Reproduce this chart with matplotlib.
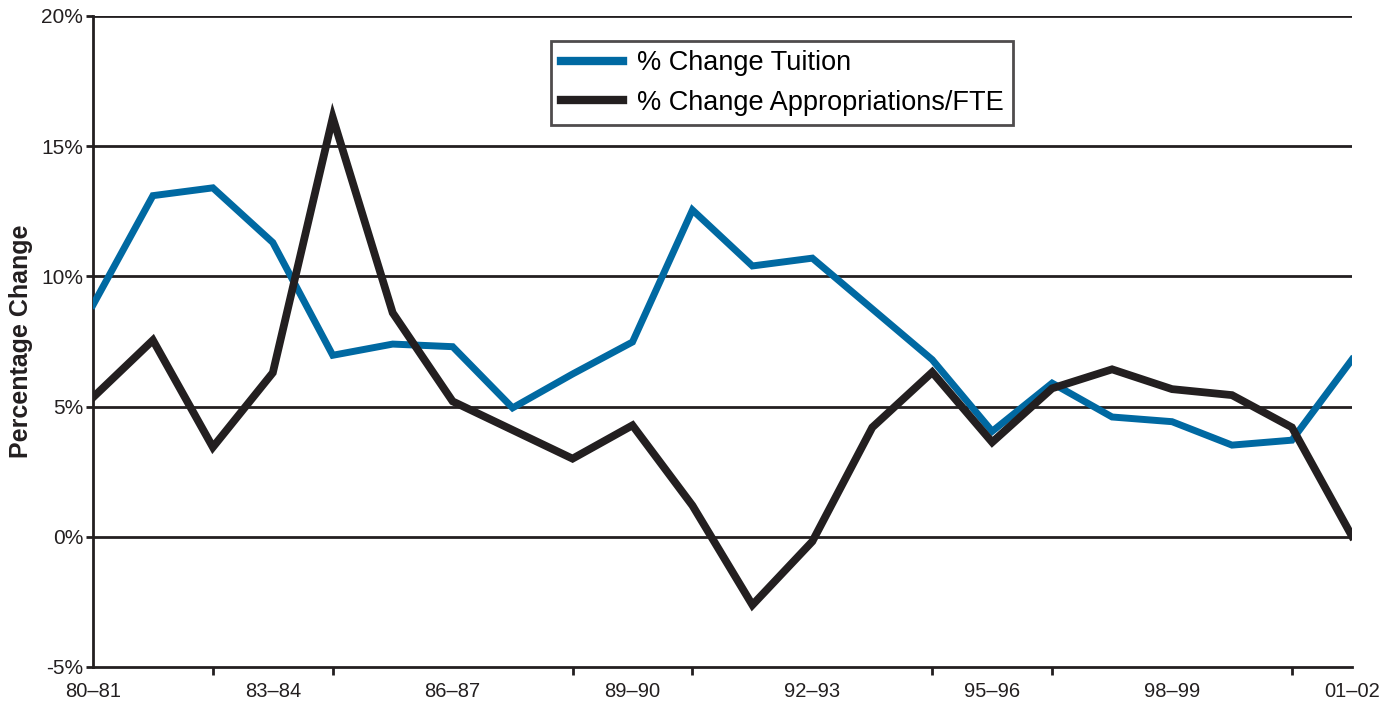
import matplotlib

matplotlib.use("Agg")

import matplotlib.pyplot as plt
import numpy as np

years = ["80–81", "81–82", "82–83", "83–84", "84–85", "85–86", "86–87", "87–88",
         "88–89", "89–90", "90–91", "91–92", "92–93", "93–94", "94–95", "95–96",
         "96–97", "97–98", "98–99", "99–00", "00–01", "01–02"]
tuition = [8.9, 13.1, 13.4, 11.3, 6.97, 7.4, 7.3, 4.95, 6.25, 7.48, 12.55, 10.4,
           10.7, 8.75, 6.8, 4.05, 5.9, 4.6, 4.42, 3.52, 3.71, 6.8]
approp = [5.35, 7.55, 3.44, 6.3, 16.1, 8.6, 5.2, 4.1, 3.0, 4.28, 1.2, -2.62,
          -0.18, 4.2, 6.32, 3.63, 5.7, 6.43, 5.67, 5.44, 4.2, 0.03]
y_ticks = [-5, 0, 5, 10, 15, 20]

plt.rcParams["font.family"] = ["Liberation Sans", "DejaVu Sans"]
ink = "#231F20"

fig = plt.figure(figsize=(13.98, 7.04), dpi=100)
ax = fig.add_axes([0.0665, 0.0526, 0.9005, 0.9247])

x = np.arange(len(years))
for v in y_ticks[1:]:
    ax.axhline(v, color=ink, lw=2.0, zorder=1)

ax.plot(x, tuition, color="#0069A2", lw=5.0, solid_joinstyle="miter",
        label="% Change Tuition", zorder=3)
ax.plot(x, approp, color=ink, lw=5.6, solid_joinstyle="miter",
        label="% Change Appropriations/FTE", zorder=4)

ax.set_xlim(0, len(years) - 1)
ax.set_ylim(-5, 20)
ax.set_yticks(y_ticks)
ax.set_yticklabels([f"{v}%" for v in y_ticks], fontsize=15, color=ink)
ax.set_xticks(x[::3])
ax.set_xticklabels(years[::3], fontsize=14.5, color=ink)
ax.set_xticks(x[::2], minor=True)
ax.tick_params(axis="x", which="major", length=0, pad=11)
ax.tick_params(axis="x", which="minor", length=6, width=2.0, direction="out",
               color=ink)
ax.tick_params(axis="y", length=5, width=2.0, color=ink, pad=2)

for side in ("top", "right"):
    ax.spines[side].set_visible(False)
for side in ("left", "bottom"):
    ax.spines[side].set_linewidth(2.0)
    ax.spines[side].set_color(ink)

ax.set_ylabel("Percentage Change", fontsize=18, fontweight="bold",
              color=ink, labelpad=6)

leg = ax.legend(loc="upper left", bbox_to_anchor=(0.364, 0.962), fontsize=19.5,
                frameon=True, fancybox=False, handlelength=2.3,
                handletextpad=0.5, borderpad=0.35, labelspacing=0.5,
                borderaxespad=0)
leg.get_frame().set_edgecolor(ink)
leg.get_frame().set_linewidth(2.0)
for h in leg.get_lines():
    h.set_linewidth(6.0)

fig.savefig("out.png", dpi=100)
